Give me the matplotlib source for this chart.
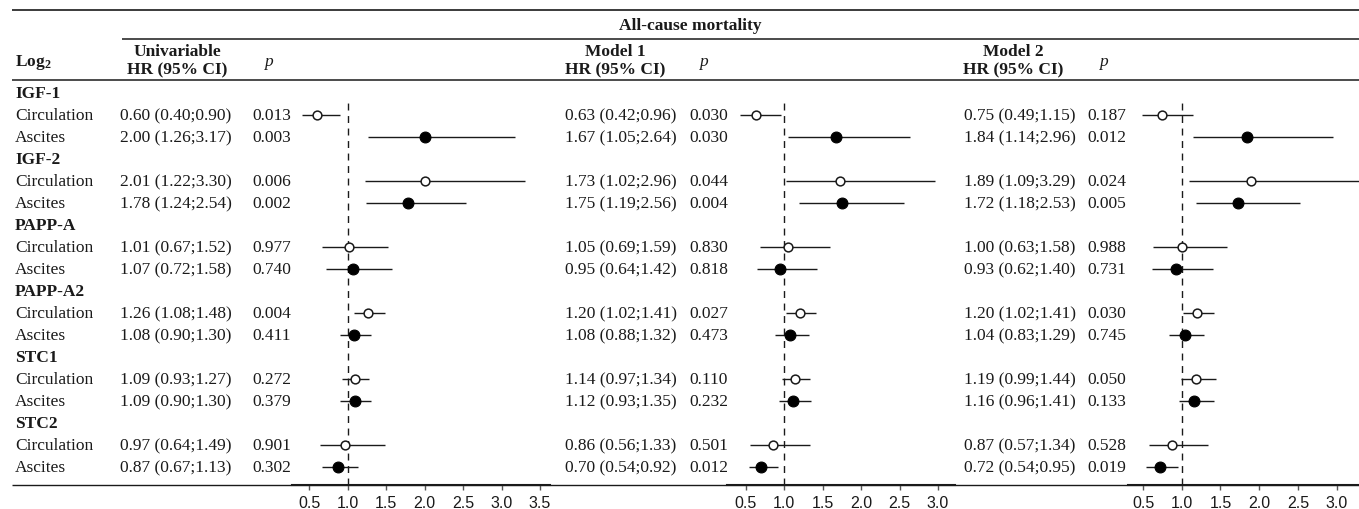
import matplotlib
matplotlib.use("Agg")
import matplotlib.pyplot as plt

plt.rcParams['mathtext.fontset'] = 'custom'
plt.rcParams['mathtext.rm'] = 'Liberation Serif'
plt.rcParams['mathtext.bf'] = 'Liberation Serif:bold'
plt.rcParams['mathtext.it'] = 'Liberation Serif:italic'

# ---------------- data ----------------
groups = ["IGF-1", "IGF-2", "PAPP-A", "PAPP-A2", "STC1", "STC2"]
sublabels = ["Circulation", "Ascites"]
panel_titles = ["Univariable", "Model 1", "Model 2"]
super_title = "All-cause mortality"

# order: IGF-1 circ, IGF-1 asc, IGF-2 circ, IGF-2 asc, ...
uni_hr = [0.60, 2.00, 2.01, 1.78, 1.01, 1.07, 1.26, 1.08, 1.09, 1.09, 0.97, 0.87]
uni_lo = [0.40, 1.26, 1.22, 1.24, 0.67, 0.72, 1.08, 0.90, 0.93, 0.90, 0.64, 0.67]
uni_hi = [0.90, 3.17, 3.30, 2.54, 1.52, 1.58, 1.48, 1.30, 1.27, 1.30, 1.49, 1.13]
uni_p = [0.013, 0.003, 0.006, 0.002, 0.977, 0.740, 0.004, 0.411, 0.272, 0.379, 0.901, 0.302]

m1_hr = [0.63, 1.67, 1.73, 1.75, 1.05, 0.95, 1.20, 1.08, 1.14, 1.12, 0.86, 0.70]
m1_lo = [0.42, 1.05, 1.02, 1.19, 0.69, 0.64, 1.02, 0.88, 0.97, 0.93, 0.56, 0.54]
m1_hi = [0.96, 2.64, 2.96, 2.56, 1.59, 1.42, 1.41, 1.32, 1.34, 1.35, 1.33, 0.92]
m1_p = [0.030, 0.030, 0.044, 0.004, 0.830, 0.818, 0.027, 0.473, 0.110, 0.232, 0.501, 0.012]

m2_hr = [0.75, 1.84, 1.89, 1.72, 1.00, 0.93, 1.20, 1.04, 1.19, 1.16, 0.87, 0.72]
m2_lo = [0.49, 1.14, 1.09, 1.18, 0.63, 0.62, 1.02, 0.83, 0.99, 0.96, 0.57, 0.54]
m2_hi = [1.15, 2.96, 3.29, 2.53, 1.58, 1.40, 1.41, 1.29, 1.44, 1.41, 1.34, 0.95]
m2_p = [0.187, 0.012, 0.024, 0.005, 0.988, 0.731, 0.030, 0.745, 0.050, 0.133, 0.528, 0.019]

ticks_p1 = [0.5, 1.0, 1.5, 2.0, 2.5, 3.0, 3.5]
ticks_p23 = [0.5, 1.0, 1.5, 2.0, 2.5, 3.0]

# ---------------- layout (pixels) ----------------
W, H = 1359, 510
ROW0, ROW_H = 94, 22
SERIF = 'Liberation Serif'
FS = 12.5
INK = '#1a1a1a'

panels = [
    dict(hr=uni_hr, lo=uni_lo, hi=uni_hi, p=uni_p, ticks=ticks_p1,
         hr_x=120, p_x=252, head_x=177, phead_x=268,
         ax_x=(292, 550), xlim=(0.275, 3.63)),
    dict(hr=m1_hr, lo=m1_lo, hi=m1_hi, p=m1_p, ticks=ticks_p23,
         hr_x=565, p_x=689, head_x=615, phead_x=703,
         ax_x=(727, 955), xlim=(0.256, 3.22)),
    dict(hr=m2_hr, lo=m2_lo, hi=m2_hi, p=m2_p, ticks=ticks_p23,
         hr_x=964, p_x=1087, head_x=1013, phead_x=1103,
         ax_x=(1128, 1359), xlim=(0.305, 3.29)),
]

fig = plt.figure(figsize=(W / 100, H / 100), dpi=100)
bg = fig.add_axes([0, 0, 1, 1])
bg.set_xlim(0, W)
bg.set_ylim(H, 0)
bg.axis('off')

def ypix(idx):
    return ROW0 + ROW_H * idx

# table rules
for (y, x0, lw) in [(11, 12, 1.2), (40, 122, 1.1), (81, 12, 1.1), (486, 12, 1.0)]:
    bg.plot([x0, W], [y, y], color=INK, lw=lw, solid_capstyle='butt')

# headers
bg.text(690, 26, super_title, fontfamily=SERIF, fontsize=FS, fontweight='bold',
        ha='center', va='center', color=INK)
bg.text(15, 63, r"Log$_\mathbf{2}$", fontfamily=SERIF, fontsize=FS, fontweight='bold',
        ha='left', va='center', color=INK)
for pt, pan in zip(panel_titles, panels):
    bg.text(pan['head_x'], 52, pt, fontfamily=SERIF, fontsize=FS, fontweight='bold',
            ha='center', va='center', color=INK)
    bg.text(pan['head_x'], 70, "HR (95% CI)", fontfamily=SERIF, fontsize=FS,
            fontweight='bold', ha='center', va='center', color=INK)
    bg.text(pan['phead_x'], 62, "p", fontfamily=SERIF, fontsize=FS, fontstyle='italic',
            ha='center', va='center', color=INK)

# row labels
for gi, g in enumerate(groups):
    bg.text(15, ypix(3 * gi), g, fontfamily=SERIF, fontsize=FS, fontweight='bold',
            ha='left', va='center', color=INK)
    for si, s in enumerate(sublabels):
        bg.text(15, ypix(3 * gi + 1 + si), s, fontfamily=SERIF, fontsize=FS,
                ha='left', va='center', color=INK)

# numeric columns + forests
ax_top, ax_bot = 100, 486
for pan in panels:
    idxs = []
    for k in range(len(pan['hr'])):
        gi, si = divmod(k, 2)
        idx = 3 * gi + 1 + si
        idxs.append(idx)
        bg.text(pan['hr_x'], ypix(idx),
                f"{pan['hr'][k]:.2f} ({pan['lo'][k]:.2f};{pan['hi'][k]:.2f})",
                fontfamily=SERIF, fontsize=FS, ha='left', va='center', color=INK)
        bg.text(pan['p_x'], ypix(idx), f"{pan['p'][k]:.3f}",
                fontfamily=SERIF, fontsize=FS, ha='left', va='center', color=INK)

    x0, x1 = pan['ax_x']
    ax = fig.add_axes([x0 / W, (H - ax_bot) / H, (x1 - x0) / W, (ax_bot - ax_top) / H])
    ax.patch.set_visible(False)
    ax.set_xlim(*pan['xlim'])
    ax.set_ylim((ax_bot - ROW0) / ROW_H, (ax_top - ROW0) / ROW_H)
    for side in ['top', 'right', 'left']:
        ax.spines[side].set_visible(False)
    ax.spines['bottom'].set_linewidth(1.5)
    ax.spines['bottom'].set_color(INK)
    ax.set_yticks([])
    ax.set_xticks(pan['ticks'])
    ax.set_xticklabels([f"{t:.1f}" for t in pan['ticks']])
    ax.tick_params(axis='x', direction='out', length=3.5, width=1.0, color='#555555',
                   pad=3.5, labelsize=11.5, labelcolor=INK)
    for lab in ax.get_xticklabels():
        lab.set_fontfamily('Liberation Sans')
    ax.axvline(1.0, color=INK, lw=1.0, linestyle=(0, (5, 4)), zorder=1)

    for k, idx in enumerate(idxs):
        ax.plot([pan['lo'][k], pan['hi'][k]], [idx, idx], color=INK, lw=1.0,
                solid_capstyle='butt', zorder=2)
        if k % 2 == 0:
            ax.plot(pan['hr'][k], idx, marker='o', ms=6.3, mfc='white', mec=INK,
                    mew=1.1, zorder=3)
        else:
            ax.plot(pan['hr'][k], idx, marker='o', ms=7.8, mfc='black', mec='black',
                    mew=0.8, zorder=3)

fig.savefig("out.png", dpi=100)
